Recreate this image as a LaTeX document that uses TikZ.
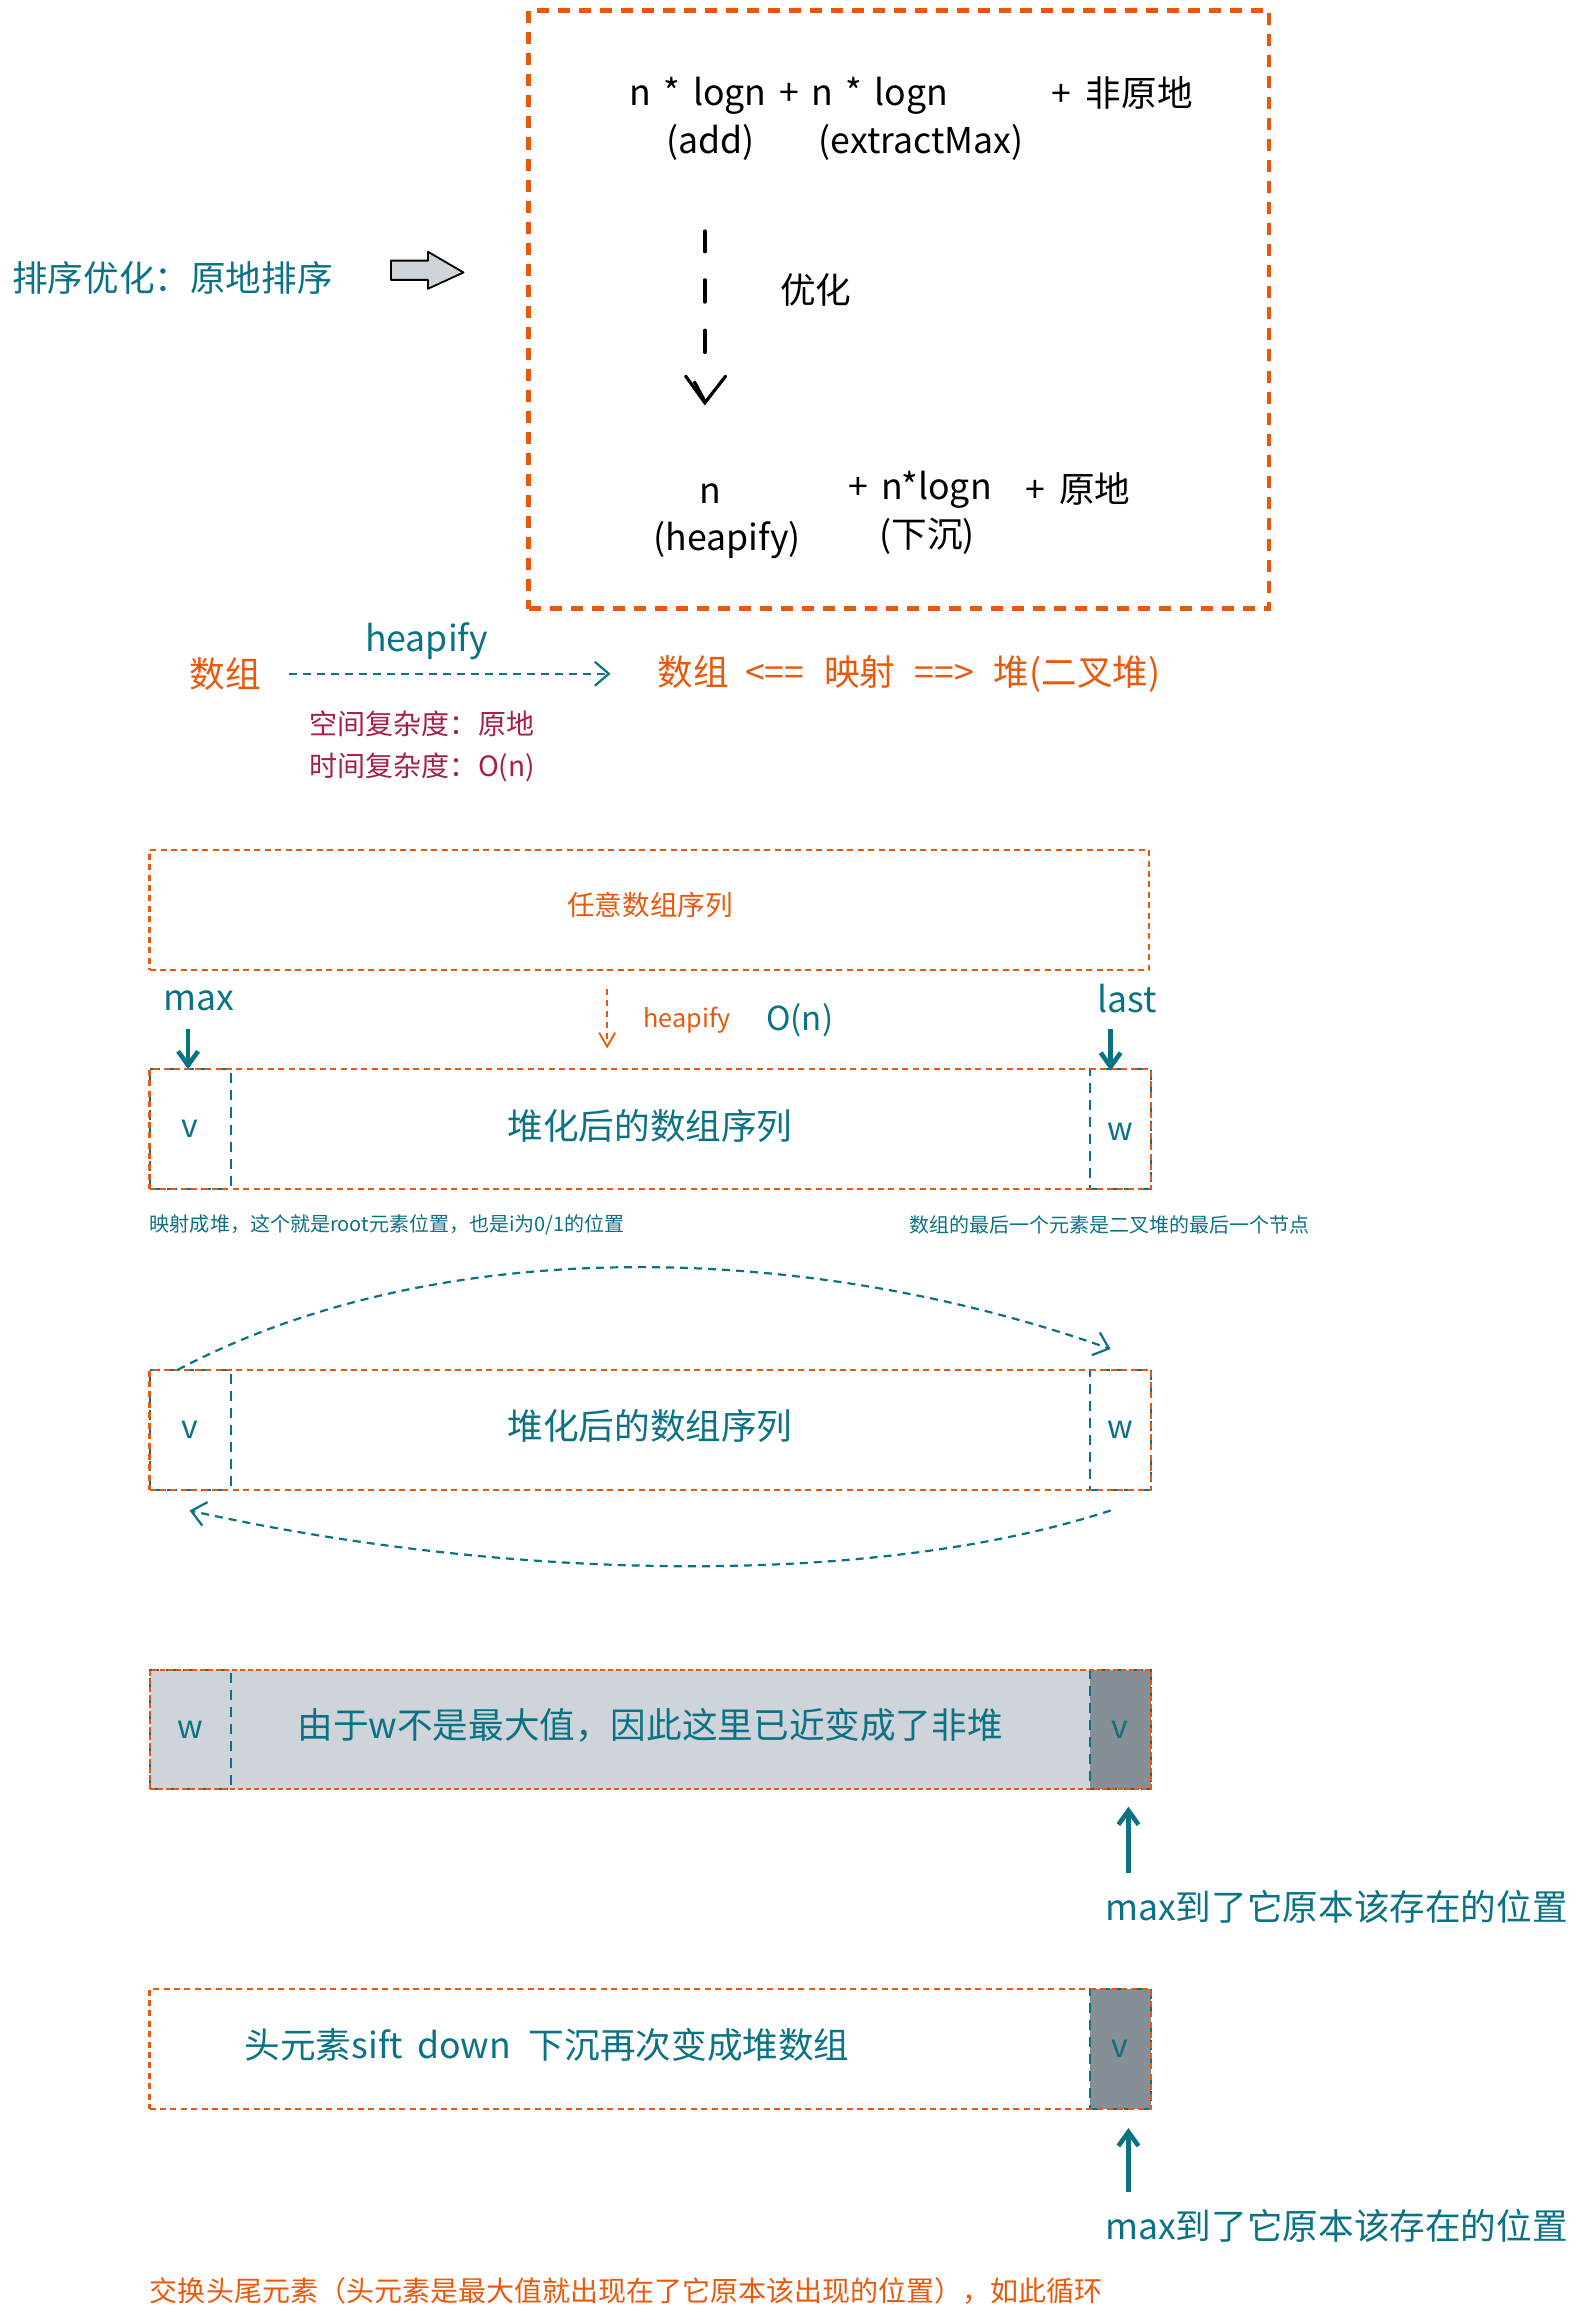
\documentclass[tikz,border=0pt]{standalone}
\usepackage{fontspec}
\setmainfont{Noto Sans CJK SC}
\usetikzlibrary{arrows.meta,fit}
\definecolor{tealc}{HTML}{0B7285}
\definecolor{orgc}{HTML}{E8590C}
\definecolor{crimc}{HTML}{A61E4D}
\definecolor{lgray}{HTML}{CED4DA}
\definecolor{dgray}{HTML}{868E96}
\begin{document}
\begin{tikzpicture}[x=0.74pt,y=-0.74pt,
  big/.style={font=\fontsize{17.8}{20}\selectfont, inner sep=0pt},
  medf/.style={font=\fontsize{14}{16}\selectfont, inner sep=0pt},
  smallf/.style={font=\fontsize{10}{12}\selectfont, inner sep=0pt},
  tinyf/.style={font=\fontsize{12.6}{14}\selectfont, inner sep=0pt},
  vwf/.style={font=\fontsize{16}{17}\selectfont, inner sep=0pt, text=tealc},
  obox/.style={draw=orgc, line width=1.1pt, dash pattern=on 3pt off 2.2pt},
  tbox/.style={draw=tealc, line width=1pt, dash pattern=on 5pt off 3.5pt},
  fitbox/.style={inner sep=0pt, outer sep=0pt},
  tarrow/.style={draw=tealc, line width=2.3pt, -{Straight Barb[length=7pt,width=10pt]}},
  tdash/.style={draw=tealc, line width=1.1pt, dash pattern=on 4pt off 3pt, -{Straight Barb[length=7pt,width=12pt]}},
  blk/.style={line width=1.6pt, line cap=round}
]
\useasboundingbox (0,0) rectangle (1065,1568);

% ---------- title and block arrow ----------
\node[big, text=tealc, anchor=west] (title) at (8,188) {排序优化：原地排序};
\draw[black, fill=lgray, line width=0.9pt, line join=round]
  (264,176) -- (289,176) -- (289,170) -- (313,184) -- (289,195) -- (289,189) -- (264,189) -- cycle;

% ---------- top box ----------
\node[fit={(357,7) (857,411)}, fitbox, draw=orgc, line width=2.2pt, dash pattern=on 6pt off 4.5pt] (topbox) {};
\node[big, anchor=west] (l1) at (425,65) {n\hspace{0.35em}*\hspace{0.35em}logn\hspace{0.35em}+\hspace{0.35em}n\hspace{0.35em}*\hspace{0.35em}logn};
\node[big, anchor=west] (l1b) at (710,63) {+\hspace{0.4em}非原地};
\node[big] (l2a) at (480,96) {(add)};
\node[big] (l2b) at (622,96) {(extractMax)};
\draw[blk] (476,156) -- (476,170);
\draw[blk] (476,189) -- (476,204);
\draw[blk] (476,223) -- (476,238);
\draw[blk] (463,254) -- (476,272) -- (490,254);
\draw[blk] (469,258) -- (476,271);
\node[big] (opt) at (551,196) {优化};
\node[big] (l3a) at (480,333) {n};
\node[big, anchor=west] (l3b) at (573,331) {+\hspace{0.35em}n*logn};
\node[big, anchor=west] (l3c) at (692,330) {+\hspace{0.4em}原地};
\node[big] (l4a) at (491,365) {(heapify)};
\node[big] (l4b) at (626,362) {(下沉)};

% ---------- mapping line ----------
\node[big, text=orgc] (arrA) at (152,455) {数组};
\node[big, text=orgc, anchor=west] (arrB) at (444,455) {数组\hspace{0.45em}<==\hspace{0.55em}映射\hspace{0.55em}==>\hspace{0.55em}堆(二叉堆)};
\draw[tdash] ([xshift=14pt]arrA.east) -- ([xshift=-23.5pt]arrB.west);
\node[big, text=tealc] (hp) at (288,433) {heapify};
\node[medf, text=crimc, anchor=west] (sp) at (209,489) {空间复杂度：原地};
\node[medf, text=crimc, anchor=west] (tm) at (209,518) {时间复杂度：O(n)};

% ---------- arbitrary array ----------
\node[fit={(101,574) (776,655)}, fitbox, obox] (r1) {};
\node[font=\fontsize{13.8}{15}\selectfont, inner sep=0pt, text=orgc] (r1t) at (439,611) {任意数组序列};

% ---------- labels between ----------
\node[big, text=tealc] (maxl) at (134,676) {max};
\node[big, text=tealc] (lastl) at (761,674) {last};
\node[tinyf, text=orgc] (hp2) at (464,689) {heapify};
\node[font=\fontsize{16.5}{18}\selectfont, inner sep=0pt, text=tealc] (on) at (540,689) {O(n)};
\coordinate (hs) at (410,668);
\coordinate (he) at (410,708);
\draw[draw=orgc, line width=0.9pt, dash pattern=on 3pt off 2.5pt, -{Straight Barb[length=7pt,width=8pt]}] (hs) -- (he);

% ---------- heapified array ----------
\node[fit={(101,722) (156,803)}, fitbox, tbox] (v2) {};
\node[fit={(736,722) (777,803)}, fitbox, tbox] (w2) {};
\node[fit={(101,722) (777,803)}, fitbox, obox] (r2) {};
\node[vwf] at (v2.center) {v};
\node[vwf] at ([yshift=-1.5pt]w2.center) {w};
\node[big, text=tealc] (r2t) at (439,760) {堆化后的数组序列};
\coordinate (ma) at (127,695);
\coordinate (mb) at (127,722);
\coordinate (la) at (750,695);
\coordinate (lb) at (750,723);
\draw[tarrow] (ma) -- (mb);
\draw[tarrow] (la) -- (lb);
\node[smallf, text=tealc, anchor=west] (c1) at (101,827) {映射成堆，这个就是root元素位置，也是i为0/1的位置};
\node[smallf, text=tealc, anchor=west] (c2) at (614,827) {数组的最后一个元素是二叉堆的最后一个节点};

% ---------- swap ----------
\node[fit={(101,925) (156,1006)}, fitbox, tbox] (v3) {};
\node[fit={(736,925) (777,1006)}, fitbox, tbox] (w3) {};
\node[fit={(101,925) (777,1006)}, fitbox, obox] (r3) {};
\node[vwf] at (v3.center) {v};
\node[vwf] at (w3.center) {w};
\node[big, text=tealc] (r3t) at (439,963) {堆化后的数组序列};
\coordinate (s1) at (120,925);
\coordinate (s2) at (750,911);
\coordinate (s3) at (750,1020);
\coordinate (s4) at (128,1020);
\draw[tdash] (s1) .. controls (300,830) and (550,840) .. (s2);
\draw[tdash] (s3) .. controls (580,1075) and (330,1065) .. (s4);

% ---------- not a heap ----------
\fill[lgray] (101,1128) rectangle (777,1208);
\node[fit={(101,1128) (156,1208)}, fitbox, tbox] (w4) {};
\node[fit={(736,1128) (777,1208)}, fitbox, tbox, fill=dgray] (v4) {};
\node[fit={(101,1128) (777,1208)}, fitbox, draw=orgc, line width=1pt, dash pattern=on 2.5pt off 1.5pt] (r4) {};
\node[vwf] at (w4.center) {w};
\node[vwf] at (v4.center) {v};
\node[big, text=tealc] (r4t) at (439,1165) {由于w不是最大值，因此这里已近变成了非堆};
\node[big, text=tealc, anchor=west] (m1) at (746,1288) {max到了它原本该存在的位置};
\coordinate (u1a) at (762,1265);
\coordinate (u1b) at (762,1220);
\draw[tarrow] (u1a) -- (u1b);

% ---------- sift down ----------
\node[fit={(736,1343) (777,1424)}, fitbox, tbox, fill=dgray] (v5) {};
\node[fit={(101,1343) (777,1424)}, fitbox, obox] (r5) {};
\node[vwf] at (v5.center) {v};
\node[big, text=tealc, anchor=west] (r5t) at (165,1381) {头元素sift\hspace{0.4em}down\hspace{0.5em}下沉再次变成堆数组};
\node[big, text=tealc, anchor=west] (m2) at (746,1503) {max到了它原本该存在的位置};
\coordinate (u2a) at (762,1480);
\coordinate (u2b) at (762,1437);
\draw[tarrow] (u2a) -- (u2b);

% ---------- bottom ----------
\node[font=\fontsize{14}{16}\selectfont, inner sep=0pt, text=orgc, anchor=west] (bot) at (101,1547) {交换头尾元素（头元素是最大值就出现在了它原本该出现的位置），如此循环};
\end{tikzpicture}
\end{document}
